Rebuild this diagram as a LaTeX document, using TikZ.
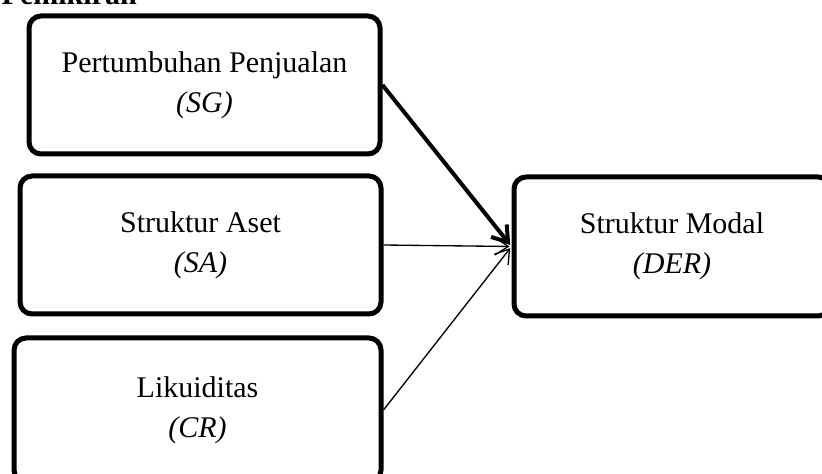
\documentclass[tikz,border=0pt]{standalone}
\usepackage{fontspec}
\setmainfont{Liberation Serif}
\usetikzlibrary{arrows.meta}

\begin{document}
\begin{tikzpicture}[
    x=0.75pt, y=-0.75pt,
    varbox/.style={rectangle, rounded corners=9pt, draw=black, line width=3.75pt, align=center, inner sep=0pt, font=\fontsize{22.5}{30}\selectfont},
    arrow/.style={-{Straight Barb[length=10pt, width=13pt]}, line width=1pt, shorten >=1.5pt},
    thick_arrow/.style={-{Straight Barb[length=11pt, width=15pt]}, line width=3pt, shorten >=1.5pt},
    title_label/.style={font=\bfseries\fontsize{22.5}{30}\selectfont, anchor=base east, inner sep=0pt}
]
\useasboundingbox (0,0) rectangle (822,474);

% --- Title (cut off at the top) ---
\node (title) [title_label] at (137,5) {Pemikiran};

% --- Independent variables ---
\node (sg) [varbox, minimum width=263.25pt, minimum height=103.5pt] at (204.5,85) {Pertumbuhan Penjualan\\\textit{(SG)}};
\node (sa) [varbox, minimum width=270.75pt, minimum height=103.5pt] at (200.5,245) {Struktur Aset\\\textit{(SA)}};
\node (cr) [varbox, minimum width=275.25pt, minimum height=108pt] at (197.5,410) {Likuiditas\\\textit{(CR)}};

% --- Dependent variable ---
\node (der) [varbox, minimum width=237pt, minimum height=104.25pt] at (672,246.5) {Struktur Modal\\\textit{(DER)}};

% --- Arrows ---
\draw [thick_arrow] (sg.east) -- (der.west);
\draw [arrow] (sa.east) -- (der.west);
\draw [arrow] (cr.east) -- (der.west);

\end{tikzpicture}
\end{document}
